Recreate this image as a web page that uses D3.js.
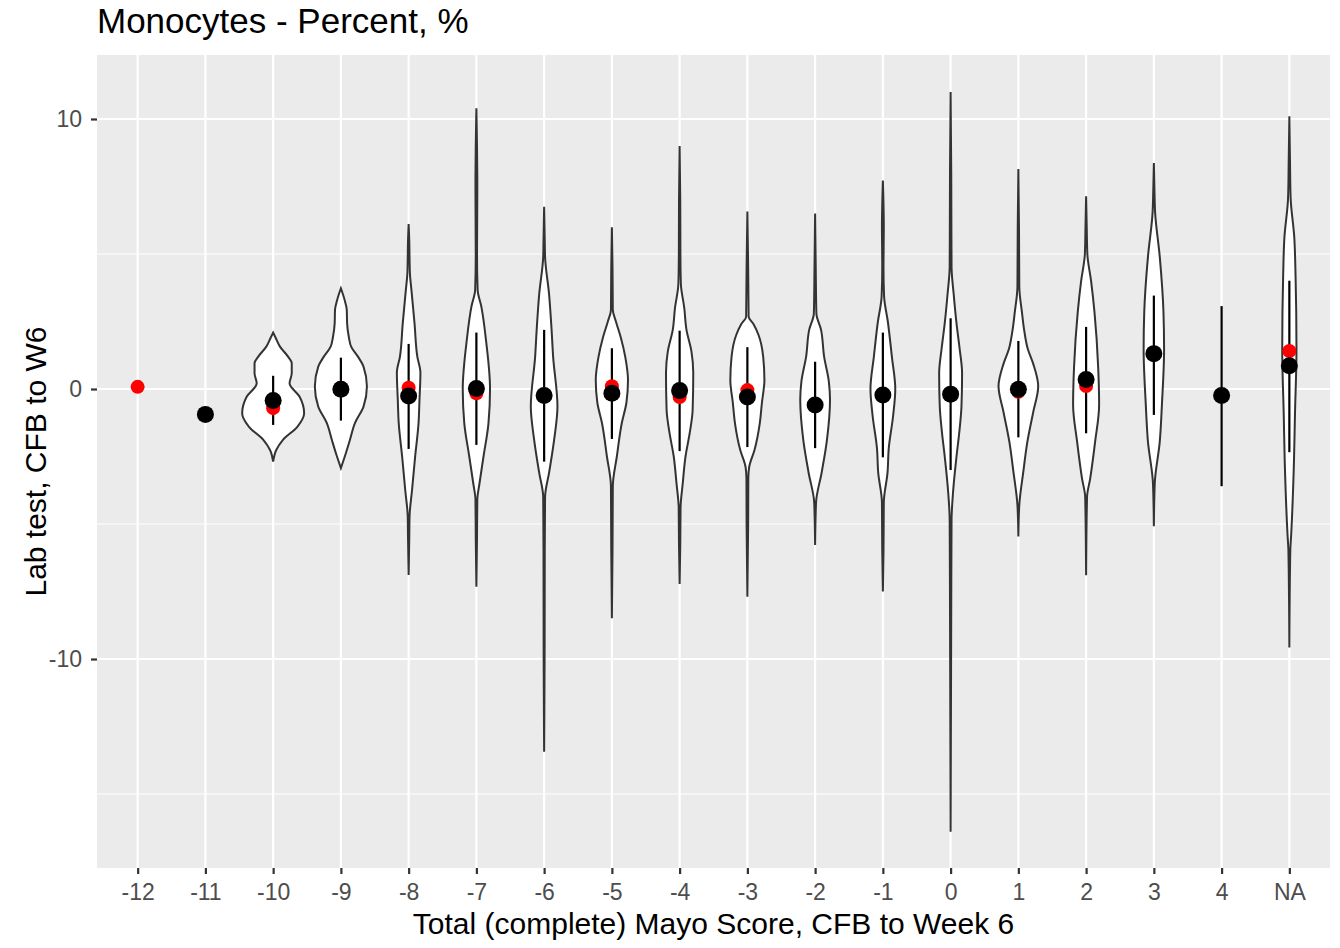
<!DOCTYPE html>
<html><head><meta charset="utf-8">
<script src="https://cdn.jsdelivr.net/npm/d3@7"></script>
<style>body{margin:0;background:#fff}svg{display:block}text{font-family:"Liberation Sans",Arial,sans-serif}</style>
</head><body><svg id="c" width="1340" height="948"></svg>
<script>
const categories = ["-12","-11","-10","-9","-8","-7","-6","-5","-4","-3","-2","-1","0","1","2","3","4","NA"];
const means   = [null,-0.94,-0.43,-0.01,-0.26,0.02,-0.24,-0.16,-0.06,-0.30,-0.59,-0.22,-0.19,-0.01,0.35,1.31,-0.24,0.86];
const medians = [0.08,-0.94,-0.71,0.05,0.05,-0.16,-0.24,0.10,-0.30,-0.04,-0.59,-0.22,-0.19,-0.10,0.11,1.31,-0.24,1.41];
const sdLow   = [null,null,-1.33,-1.17,-2.22,-2.07,-2.69,-1.85,-2.30,-2.15,-2.19,-2.53,-3.00,-1.79,-1.64,-0.96,-3.60,-2.34];
const sdHigh  = [null,null,0.49,1.16,1.67,2.09,2.19,1.51,2.16,1.55,1.01,2.09,2.62,1.78,2.30,3.46,3.07,4.01];
const yTicks = [-10,0,10];
const yMinor = [-15,-5,5];
// violin density profiles: [value, relative density]
const vio_m10 = [[2.09,0],[1.9,0.08],[1.57,0.22],[1.2,0.48],[0.96,0.6],[0.58,0.6],[0.21,0.53],[-0.28,0.85],[-0.9,1.0],[-1.4,0.78],[-1.89,0.31],[-2.26,0.1],[-2.69,0]];
const vio_m9  = [[3.73,0],[3.3,0.12],[2.93,0.19],[2.44,0.2],[1.9,0.26],[1.57,0.33],[1.2,0.55],[0.83,0.73],[0.09,0.84],[-0.65,0.73],[-1.27,0.45],[-1.89,0.29],[-2.38,0.16],[-2.93,0]];
const vio_m8  = [[6.11,0],[5.5,0.02],[4.8,0.03],[4.3,0.04],[3.67,0.09],[2.43,0.19],[1.2,0.28],[0.6,0.38],[-0.4,0.35],[-1.26,0.32],[-2.5,0.21],[-3.74,0.11],[-4.7,0.03],[-5.5,0.02],[-6.89,0]];
const vio_m7  = [[10.4,0],[9,0.02],[7.5,0.03],[5,0.02],[3.67,0.04],[3.05,0.16],[1.81,0.31],[0,0.44],[-1.27,0.39],[-2.5,0.23],[-3.5,0.1],[-4.1,0.03],[-5.5,0.02],[-7.32,0]];
const vio_m6  = [[6.75,0],[5.5,0.02],[4.9,0.03],[3.5,0.16],[2.2,0.24],[1.2,0.29],[-0.65,0.43],[-1.9,0.32],[-3.1,0.16],[-4.0,0.03],[-6,0.02],[-10,0.015],[-13.43,0]];
const vio_m5  = [[5.99,0],[4.5,0.02],[2.93,0.03],[2.5,0.13],[1.9,0.29],[1.2,0.43],[0.33,0.52],[-0.5,0.47],[-1.26,0.32],[-2.5,0.16],[-3.6,0.03],[-6,0.02],[-8.49,0]];
const vio_m4  = [[9.0,0],[7,0.02],[5,0.025],[3.9,0.04],[3.0,0.15],[2.2,0.22],[1.4,0.38],[0.6,0.44],[-0.78,0.42],[-1.6,0.33],[-2.5,0.19],[-3.5,0.1],[-4.4,0.03],[-5.8,0.02],[-7.22,0]];
const vio_m3  = [[6.57,0],[4.5,0.025],[2.68,0.04],[2.4,0.2],[2.0,0.36],[1.2,0.51],[0.33,0.55],[-0.5,0.47],[-1.27,0.4],[-2.26,0.23],[-2.88,0.06],[-3.3,0.03],[-5,0.025],[-7.69,0]];
const vio_m2  = [[6.5,0],[4.5,0.02],[2.8,0.04],[2.2,0.19],[1.2,0.29],[0.3,0.44],[-0.4,0.48],[-1.9,0.38],[-3.1,0.21],[-4.2,0.03],[-5.78,0]];
const vio_m1  = [[7.72,0],[6,0.03],[4.5,0.02],[3.42,0.04],[2.5,0.16],[1.2,0.29],[0,0.4],[-1.0,0.33],[-2.2,0.19],[-3.1,0.15],[-4.2,0.03],[-6,0.02],[-7.5,0]];
const vio_0   = [[11.0,0],[8,0.02],[4.53,0.03],[3.5,0.1],[2.43,0.19],[1.5,0.29],[0.58,0.37],[-0.65,0.35],[-1.6,0.28],[-2.5,0.19],[-3.8,0.08],[-4.85,0.03],[-8,0.02],[-16.4,0]];
const vio_1   = [[8.15,0],[6,0.02],[3.8,0.03],[2.8,0.12],[2.16,0.19],[1.5,0.3],[0.93,0.48],[0.1,0.64],[-0.85,0.48],[-1.96,0.29],[-3.06,0.16],[-4.3,0.03],[-5.46,0]];
const vio_2   = [[7.14,0],[6,0.02],[5.0,0.04],[4.0,0.16],[2.85,0.27],[0.79,0.39],[-0.58,0.42],[-1.96,0.29],[-3.33,0.13],[-4.0,0.03],[-6.9,0]];
const vio_3   = [[8.37,0],[7.3,0.02],[6.55,0.04],[4.9,0.19],[2.85,0.31],[1.48,0.33],[-0.58,0.26],[-1.96,0.19],[-3.47,0.03],[-5.08,0]];
const vio_NA  = [[10.1,0],[8.5,0.02],[7.1,0.04],[5.6,0.16],[4.2,0.2],[1.48,0.23],[-1.0,0.18],[-2.63,0.15],[-5.37,0.06],[-6.0,0.03],[-9.57,0]];
const violins = [null,null,vio_m10,vio_m9,vio_m8,vio_m7,vio_m6,vio_m5,vio_m4,vio_m3,vio_m2,vio_m1,vio_0,vio_1,vio_2,vio_3,null,vio_NA];

const svg = d3.select("#c");
const L = 97, R = 1330, T = 55, B = 868;
const x = d3.scalePoint().domain(categories).range([L, R]).padding(0.6);
const y = d3.scaleLinear().domain([-17.74, 12.37]).range([B, T]);
const w = d3.scaleLinear().domain([0, 1]).range([0, x.step() * 0.4575]);

svg.append("rect").attr("x", L).attr("y", T).attr("width", R - L).attr("height", B - T).attr("fill", "#EBEBEB");
const grid = svg.append("g");
yMinor.forEach(v => grid.append("line").attr("x1", L).attr("x2", R).attr("y1", y(v)).attr("y2", y(v)).attr("stroke", "#fff").attr("stroke-width", 1.1));
yTicks.forEach(v => grid.append("line").attr("x1", L).attr("x2", R).attr("y1", y(v)).attr("y2", y(v)).attr("stroke", "#fff").attr("stroke-width", 2.2));
categories.forEach(c => grid.append("line").attr("x1", x(c)).attr("x2", x(c)).attr("y1", T).attr("y2", B).attr("stroke", "#fff").attr("stroke-width", 2.2));

const g = svg.append("g");
categories.forEach((c, i) => {
  const prof = violins[i];
  if (!prof) return;
  const cx = x(c);
  const area = d3.area().curve(d3.curveMonotoneY)
    .y(d => y(d[0])).x0(d => cx - w(d[1])).x1(d => cx + w(d[1]));
  g.append("path").attr("d", area(prof.slice().reverse())).attr("fill", "#fff").attr("stroke", "#333333").attr("stroke-width", 2.0);
});
categories.forEach((c, i) => {
  if (sdLow[i] == null) return;
  g.append("line").attr("x1", x(c)).attr("x2", x(c)).attr("y1", y(sdLow[i])).attr("y2", y(sdHigh[i])).attr("stroke", "#000").attr("stroke-width", 2.2);
});
categories.forEach((c, i) => {
  if (medians[i] == null) return;
  g.append("circle").attr("cx", x(c)).attr("cy", y(medians[i])).attr("r", 7).attr("fill", "#FF0000");
});
categories.forEach((c, i) => {
  if (means[i] == null) return;
  g.append("circle").attr("cx", x(c)).attr("cy", y(means[i])).attr("r", 8.5).attr("fill", "#000");
});

// axes
const xa = svg.append("g").attr("transform", `translate(0,${B})`)
  .call(d3.axisBottom(x).tickSize(6).tickPadding(10));
const ya = svg.append("g").attr("transform", `translate(${L},0)`)
  .call(d3.axisLeft(y).tickValues(yTicks).tickFormat(d => String(d)).tickSize(6).tickPadding(9));
[xa, ya].forEach(a => {
  a.select(".domain").remove();
  a.selectAll(".tick line").attr("stroke", "#333333").attr("stroke-width", 2.2);
  a.selectAll(".tick text").attr("fill", "#4D4D4D").style("font-size", "23px");
});

svg.append("text").attr("x", (L + R) / 2).attr("y", 934).attr("text-anchor", "middle")
  .style("font-size", "30px").attr("fill", "#000").text("Total (complete) Mayo Score, CFB to Week 6");
svg.append("text").attr("transform", `translate(46,${(T + B) / 2}) rotate(-90)`).attr("text-anchor", "middle")
  .style("font-size", "30px").attr("fill", "#000").text("Lab test, CFB to W6");
svg.append("text").attr("x", L).attr("y", 33).style("font-size", "35px").attr("fill", "#000").text("Monocytes - Percent, %");
</script></body></html>
